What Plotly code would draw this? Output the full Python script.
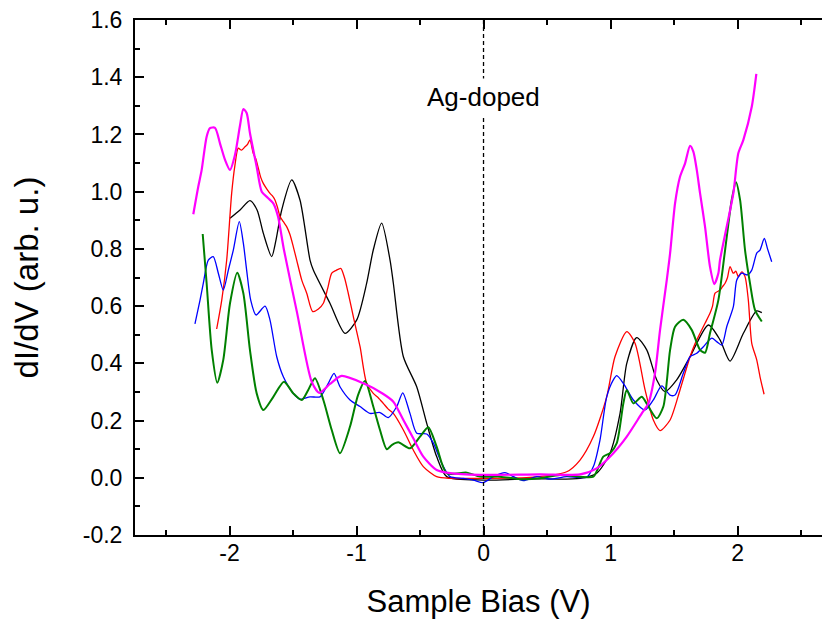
import plotly.graph_objects as go

# ---- data (Sample Bias in V, dI/dV in arb. u.) ----
black_x = [-1.996, -1.917, -1.839, -1.783, -1.734, -1.668, -1.634, -1.589, -1.510, -1.445, -1.366, -1.340,
           -1.209, -1.091, -0.998, -0.920, -0.868, -0.802, -0.736, -0.710, -0.631, -0.526, -0.447, -0.369,
           -0.290, 0.0, 0.366, 0.760, 0.891, 0.996, 1.075, 1.128, 1.206, 1.285, 1.364, 1.429, 1.521, 1.626,
           1.770, 1.862, 1.941, 2.046, 2.151, 2.191]
black_y = [0.907, 0.936, 0.969, 0.936, 0.855, 0.773, 0.831, 0.936, 1.041, 0.971, 0.761, 0.726,
           0.610, 0.505, 0.552, 0.680, 0.796, 0.890, 0.761, 0.680, 0.423, 0.318, 0.190, 0.074,
           0.004, -0.008, -0.004, -0.002, 0.016, 0.086, 0.225, 0.400, 0.490, 0.447, 0.342, 0.301, 0.342, 0.423,
           0.534, 0.482, 0.408, 0.505, 0.583, 0.577]

red_x = [-2.101, -2.061, -2.022, -1.983, -1.957, -1.931, -1.905, -1.878, -1.858, -1.839, -1.813, -1.793, -1.773,
         -1.754, -1.734, -1.707, -1.681, -1.662, -1.642, -1.622, -1.602, -1.576, -1.550, -1.524, -1.498, -1.471,
         -1.431, -1.392, -1.345, -1.300, -1.261, -1.228, -1.195, -1.160, -1.124, -1.095, -1.065, -1.025, -0.972,
         -0.920, -0.868, -0.829, -0.789, -0.750, -0.710, -0.631, -0.553, -0.474, -0.369, -0.264, -0.028, 0.366,
         0.655, 0.760, 0.865, 0.970, 1.035, 1.128, 1.193, 1.272, 1.337, 1.390, 1.469, 1.547, 1.626, 1.665,
         1.705, 1.744, 1.783, 1.803, 1.823, 1.862, 1.882, 1.902, 1.921, 1.941, 1.967, 1.987, 2.006, 2.033,
         2.059, 2.085, 2.112, 2.151, 2.177, 2.209]
red_y = [0.520, 0.621, 0.761, 0.994, 1.093, 1.152, 1.145, 1.157, 1.165, 1.181, 1.134, 1.115, 1.082,
         1.050, 1.029, 1.010, 0.994, 0.985, 0.971, 0.945, 0.913, 0.895, 0.878, 0.850, 0.808, 0.761,
         0.691, 0.645, 0.581, 0.590, 0.610, 0.660, 0.715, 0.725, 0.732, 0.700, 0.645, 0.563, 0.458,
         0.330, 0.295, 0.280, 0.260, 0.240, 0.225, 0.167, 0.097, 0.039, 0.004, -0.002, -0.002, 0.001,
         0.021, 0.062, 0.144, 0.283, 0.423, 0.511, 0.470, 0.307, 0.202, 0.165, 0.202, 0.307, 0.423, 0.468,
         0.505, 0.540, 0.575, 0.600, 0.645, 0.656, 0.668, 0.680, 0.700, 0.738, 0.715, 0.722, 0.703, 0.720,
         0.703, 0.621, 0.470, 0.412, 0.353, 0.292]

blue_x = [-2.272, -2.232, -2.206, -2.167, -2.128, -2.088, -2.049, -2.009, -1.970, -1.923, -1.891, -1.865,
          -1.833, -1.791, -1.720, -1.681, -1.628, -1.576, -1.498, -1.445, -1.366, -1.287, -1.222, -1.177,
          -1.130, -1.051, -0.972, -0.894, -0.815, -0.750, -0.683, -0.636, -0.579, -0.526, -0.447, -0.395,
          -0.329, -0.264, -0.159, -0.080, -0.002, 0.077, 0.169, 0.235, 0.313, 0.419, 0.524, 0.655, 0.813,
          0.865, 0.917, 0.970, 1.022, 1.049, 1.101, 1.180, 1.272, 1.337, 1.403, 1.469, 1.508, 1.573, 1.626,
          1.679, 1.731, 1.797, 1.836, 1.876, 1.915, 1.967, 1.994, 2.033, 2.077, 2.112, 2.151, 2.177, 2.211,
          2.235, 2.269]
blue_y = [0.538, 0.621, 0.680, 0.761, 0.773, 0.715, 0.656, 0.726, 0.796, 0.895, 0.820, 0.726,
          0.621, 0.569, 0.600, 0.551, 0.423, 0.353, 0.295, 0.274, 0.283, 0.283, 0.330, 0.365,
          0.318, 0.272, 0.249, 0.225, 0.228, 0.210, 0.249, 0.297, 0.225, 0.156, 0.153, 0.121,
          0.051, 0.004, -0.002, -0.008, -0.017, 0.004, 0.018, 0.004, -0.010, 0.004, -0.005, 0.004, 0.002,
          0.039, 0.132, 0.283, 0.342, 0.357, 0.330, 0.272, 0.237, 0.272, 0.321, 0.289, 0.289, 0.365, 0.423,
          0.435, 0.458, 0.488, 0.476, 0.464, 0.528, 0.598, 0.691, 0.715, 0.709, 0.726, 0.785, 0.796, 0.837,
          0.802, 0.755]

green_x = [-2.211, -2.180, -2.140, -2.096, -2.049, -1.996, -1.939, -1.891, -1.839, -1.786, -1.734, -1.655,
           -1.571, -1.498, -1.431, -1.380, -1.327, -1.261, -1.195, -1.130, -1.051, -0.988, -0.933, -0.868,
           -0.815, -0.762, -0.720, -0.671, -0.579, -0.500, -0.435, -0.369, -0.290, -0.132, -0.028, 0.130,
           0.287, 0.445, 0.602, 0.760, 0.865, 0.943, 0.996, 1.049, 1.101, 1.128, 1.180, 1.246, 1.298, 1.364,
           1.416, 1.469, 1.508, 1.573, 1.639, 1.705, 1.744, 1.783, 1.849, 1.902, 1.954, 1.988, 2.020, 2.059,
           2.098, 2.137, 2.191]
green_y = [0.852, 0.680, 0.447, 0.332, 0.412, 0.610, 0.717, 0.645, 0.447, 0.295, 0.237, 0.283,
           0.336, 0.295, 0.272, 0.307, 0.348, 0.272, 0.167, 0.086, 0.179, 0.289, 0.338, 0.249,
           0.167, 0.100, 0.115, 0.124, 0.103, 0.144, 0.177, 0.109, 0.016, 0.018, 0.004, 0.004,
           -0.005, -0.002, 0.010, 0.004, 0.004, 0.074, 0.086, 0.121, 0.260, 0.307, 0.260, 0.283, 0.249, 0.208,
           0.249, 0.447, 0.528, 0.552, 0.517, 0.447, 0.437, 0.505, 0.621, 0.796, 0.971, 1.033, 0.971, 0.796,
           0.680, 0.587, 0.546]

magenta_x = [-2.285, -2.246, -2.219, -2.180, -2.154, -2.114, -2.075, -2.035, -1.996, -1.957, -1.917, -1.891,
             -1.865, -1.839, -1.786, -1.746, -1.697, -1.655, -1.618, -1.571, -1.469, -1.353, -1.293, -1.209,
             -1.117, -0.946, -0.789, -0.710, -0.631, -0.553, -0.474, -0.369, -0.264, -0.028, 0.445, 0.760,
             0.891, 1.022, 1.128, 1.246, 1.298, 1.350, 1.390, 1.443, 1.469, 1.508, 1.547, 1.587, 1.626, 1.652,
             1.679, 1.705, 1.744, 1.783, 1.817, 1.849, 1.862, 1.915, 1.967, 2.006, 2.046, 2.112, 2.148]
magenta_y = [0.921, 1.017, 1.076, 1.192, 1.222, 1.223, 1.169, 1.111, 1.076, 1.128, 1.232, 1.289,
             1.275, 1.205, 1.087, 1.000, 0.978, 0.959, 0.913, 0.796, 0.579, 0.336, 0.297, 0.328,
             0.356, 0.330, 0.293, 0.266, 0.202, 0.138, 0.074, 0.027, 0.016, 0.010, 0.012, 0.012,
             0.033, 0.086, 0.144, 0.225, 0.260, 0.365, 0.517, 0.692, 0.785, 0.959, 1.052, 1.099, 1.160, 1.140,
             1.076, 0.994, 0.878, 0.738, 0.677, 0.715, 0.761, 0.878, 0.994, 1.134, 1.181, 1.297, 1.412]

x_ticks = [-2, -1, 0, 1, 2]
y_ticks = [-0.2, 0.0, 0.2, 0.4, 0.6, 0.8, 1.0, 1.2, 1.4, 1.6]
y_tick_text = ["-0.2", "0.0", "0.2", "0.4", "0.6", "0.8", "1.0", "1.2", "1.4", "1.6"]

FONT = "Liberation Sans, Arial, sans-serif"

series = [
    (black_x, black_y, "#000000", 1.3),
    (red_x, red_y, "#FF0000", 1.3),
    (blue_x, blue_y, "#0000FF", 1.3),
    (green_x, green_y, "#008000", 2.0),
    (magenta_x, magenta_y, "#FF00FF", 2.2),
]

fig = go.Figure()
for xs, ys, col, w in series:
    fig.add_trace(go.Scatter(x=xs, y=ys, mode="lines",
                             line=dict(color=col, width=w, shape="spline", smoothing=0.7),
                             showlegend=False, hoverinfo="skip"))

# dashed vertical line at zero bias
fig.add_shape(type="line", xref="x", yref="paper", x0=0, x1=0, y0=0, y1=1,
              line=dict(color="black", width=1.3, dash="4px,3px"))
fig.add_annotation(x=0, y=1.33, xref="x", yref="y", text="Ag-doped", showarrow=False,
                   font=dict(family=FONT, size=26, color="black"), bgcolor="white", borderpad=3)

fig.update_layout(
    width=822, height=628,
    margin=dict(l=135, r=0, t=20, b=93),
    paper_bgcolor="white", plot_bgcolor="white",
    font=dict(family=FONT, color="black"),
)
fig.update_xaxes(
    range=[-2.744, 2.665], tickmode="array", tickvals=x_ticks, ticktext=[str(v) for v in x_ticks],
    ticks="inside", ticklen=9, tickwidth=2, tickcolor="black",
    minor=dict(dtick=0.5, ticks="inside", ticklen=5, tickwidth=2, tickcolor="black"),
    showline=True, linecolor="black", linewidth=2, mirror="ticks",
    showgrid=False, zeroline=False,
    tickfont=dict(family=FONT, size=23), ticklabelstandoff=-4,
    title=dict(text="Sample Bias (V)", font=dict(family=FONT, size=31), standoff=26),
)
fig.update_yaxes(
    range=[-0.2, 1.6], tickmode="array", tickvals=y_ticks, ticktext=y_tick_text,
    ticks="inside", ticklen=9, tickwidth=2, tickcolor="black",
    minor=dict(dtick=0.1, ticks="inside", ticklen=5, tickwidth=2, tickcolor="black"),
    showline=True, linecolor="black", linewidth=2, mirror=False,
    showgrid=False, zeroline=False,
    tickfont=dict(family=FONT, size=23), ticklabelstandoff=6,
    title=dict(text="dI/dV (arb. u.)", font=dict(family=FONT, size=33), standoff=34),
)

fig.write_html("out.html")
